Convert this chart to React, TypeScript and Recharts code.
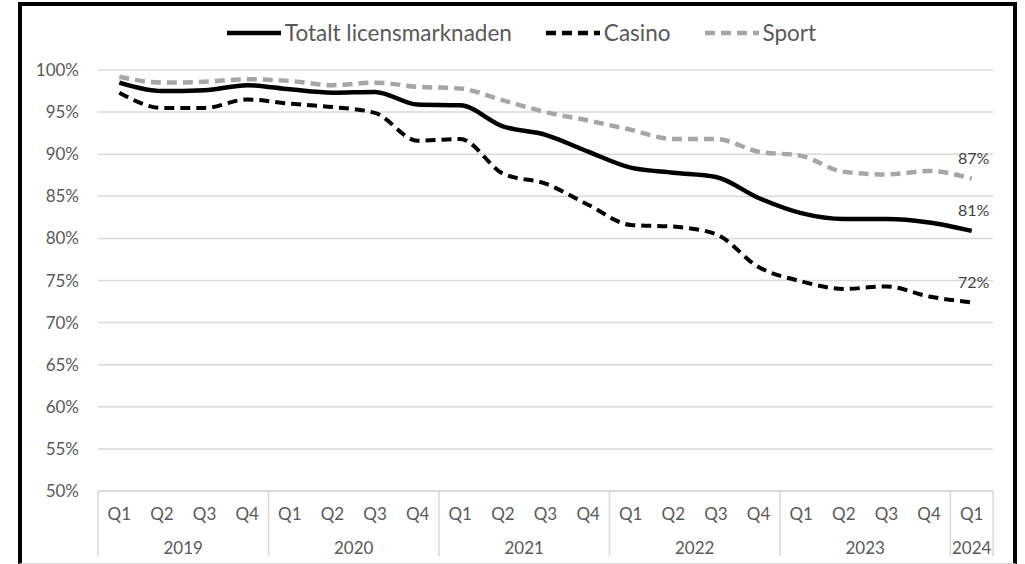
import React from "react";
import { LineChart, Line, XAxis, YAxis, CartesianGrid, LabelList } from "recharts";

const yearOf = [
  "2019", "2019", "2019", "2019",
  "2020", "2020", "2020", "2020",
  "2021", "2021", "2021", "2021",
  "2022", "2022", "2022", "2022",
  "2023", "2023", "2023", "2023",
  "2024",
];
const quarterOf = [
  "Q1", "Q2", "Q3", "Q4", "Q1", "Q2", "Q3", "Q4", "Q1", "Q2", "Q3", "Q4",
  "Q1", "Q2", "Q3", "Q4", "Q1", "Q2", "Q3", "Q4", "Q1",
];

const total = [98.5, 97.5, 97.6, 98.2, 97.7, 97.3, 97.4, 95.9, 95.8, 93.3, 92.3, 90.3, 88.4, 87.8, 87.3, 84.8, 83.0, 82.3, 82.3, 81.9, 80.9];
const casino = [97.3, 95.5, 95.5, 96.5, 96.0, 95.6, 94.9, 91.6, 91.8, 87.7, 86.5, 84.0, 81.6, 81.4, 80.5, 76.6, 74.9, 74.0, 74.3, 73.1, 72.4];
const sport = [99.2, 98.5, 98.6, 98.9, 98.7, 98.2, 98.5, 98.0, 97.8, 96.4, 95.0, 94.0, 92.9, 91.8, 91.8, 90.3, 89.8, 87.9, 87.6, 88.0, 87.1];

const yTicks = [50, 55, 60, 65, 70, 75, 80, 85, 90, 95, 100];

const data = yearOf.map((y, i) => ({
  period: `${y} ${quarterOf[i]}`,
  total: total[i],
  casino: casino[i],
  sport: sport[i],
}));

const FONT = "Lato, 'Liberation Sans', sans-serif";
const TEXT = "#595959";
const GRID = "#d9d9d9";
const SPORT = "#a6a6a6";
const TICK_SIZE = 17;

const W = 991;
const H = 557;
const MARGIN = { top: 64, right: 20, left: 16, bottom: 6 };
const Y_W = 60;
const X_H = 66;
const PLOT_W = W - MARGIN.left - MARGIN.right - Y_W;
const STEP = PLOT_W / data.length;

function PeriodTick(props: any) {
  const { x, y, payload } = props;
  const i = payload?.index ?? props.index;
  const yr = yearOf[i];
  const isStart = i === 0 || yearOf[i - 1] !== yr;
  const isLast = i === yearOf.length - 1;
  const count = yearOf.filter((v) => v === yr).length;
  return (
    <g>
      <text x={x} y={y + 22} textAnchor="middle" dominantBaseline="central" fill={TEXT} fontSize={TICK_SIZE} fontFamily={FONT}>
        {quarterOf[i]}
      </text>
      {isStart && <line x1={x - STEP / 2} x2={x - STEP / 2} y1={y} y2={y + 65} stroke={GRID} strokeWidth={1.5} />}
      {isLast && <line x1={x + STEP / 2} x2={x + STEP / 2} y1={y} y2={y + 65} stroke={GRID} strokeWidth={1.5} />}
      {isStart && (
        <text x={x + ((count - 1) * STEP) / 2} y={y + 56} textAnchor="middle" dominantBaseline="central" fill={TEXT} fontSize={TICK_SIZE} fontFamily={FONT}>
          {yr}
        </text>
      )}
    </g>
  );
}

const endLabel = (props: any) => {
  const { x, y, index, value } = props;
  if (index !== data.length - 1) return null;
  return (
    <text x={x + 2} y={y - 21} textAnchor="middle" dominantBaseline="central" fill="#404040" fontSize={16} fontFamily={FONT}>
      {Math.round(value)}%
    </text>
  );
};

const legendItems = [
  { label: "Totalt licensmarknaden", color: "#000", dash: undefined },
  { label: "Casino", color: "#000", dash: "10 6" },
  { label: "Sport", color: SPORT, dash: "10 6" },
];

function ChartLegend() {
  return (
    <div style={{ position: "absolute", top: 13, left: 3, width: W, display: "flex", justifyContent: "center", gap: 32, fontFamily: FONT, fontSize: 22.5, color: TEXT }}>
      {legendItems.map((it) => (
        <div key={it.label} style={{ display: "flex", alignItems: "center", gap: 2 }}>
          <svg width={58} height={10}>
            <line x1={2} x2={56} y1={5} y2={5} stroke={it.color} strokeWidth={4.5} strokeDasharray={it.dash} />
          </svg>
          <span>{it.label}</span>
        </div>
      ))}
    </div>
  );
}

export default function App() {
  return (
    <div
      style={{
        position: "absolute", left: 18, top: 2, width: W + 8, height: H + 5,
        boxSizing: "border-box", borderTop: "4px solid #000", borderLeft: "4px solid #000",
        borderRight: "4px solid #000", borderBottom: `1px solid ${GRID}`, background: "#fff",
      }}
    >
      <div style={{ position: "relative", width: W, height: H }}>
        <ChartLegend />
        <LineChart width={W} height={H} data={data} margin={MARGIN} style={{ fontFamily: FONT }}>
          <CartesianGrid vertical={false} stroke={GRID} strokeWidth={1.5} />
          <XAxis
            dataKey="period"
            interval={0}
            height={X_H}
            padding={{ left: STEP / 2, right: STEP / 2 }}
            tickLine={false}
            tickSize={0}
            tickMargin={0}
            axisLine={{ stroke: GRID, strokeWidth: 1.5 }}
            tick={<PeriodTick />}
          />
          <YAxis
            width={Y_W}
            domain={[50, 100]}
            ticks={yTicks}
            tickFormatter={(v) => `${v}%`}
            axisLine={false}
            tickLine={false}
            tickSize={0}
            tickMargin={19}
            tick={{ fontSize: TICK_SIZE, fill: TEXT, fontFamily: FONT }}
          />
          <Line type="monotone" dataKey="sport" stroke={SPORT} strokeWidth={4.5} strokeDasharray="10 6" dot={false} isAnimationActive={false}>
            <LabelList dataKey="sport" content={endLabel} />
          </Line>
          <Line type="monotone" dataKey="casino" stroke="#000" strokeWidth={4} strokeDasharray="10 6" dot={false} isAnimationActive={false}>
            <LabelList dataKey="casino" content={endLabel} />
          </Line>
          <Line type="monotone" dataKey="total" stroke="#000" strokeWidth={4.5} dot={false} isAnimationActive={false}>
            <LabelList dataKey="total" content={endLabel} />
          </Line>
        </LineChart>
      </div>
    </div>
  );
}
